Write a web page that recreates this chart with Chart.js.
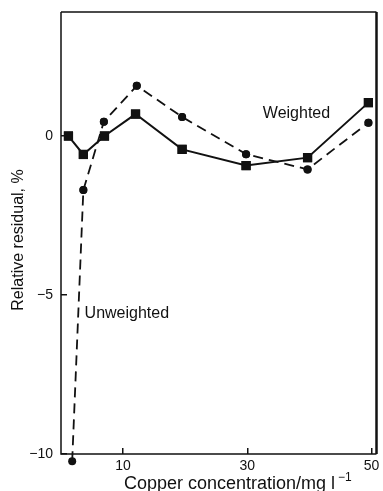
<!DOCTYPE html>
<html>
<head>
<meta charset="utf-8">
<script src="https://cdn.jsdelivr.net/npm/chart.js@4.4.1/dist/chart.umd.min.js"></script>
<style>
  html, body { margin: 0; padding: 0; background: #fff; }
</style>
</head>
<body>
<canvas id="residualChart" width="383" height="491"></canvas>
<script>
  // data
  var weightedConc = [1.2, 3.6, 7, 12, 19.5, 29.8, 39.7, 49.5];
  var weightedResidual = [0, -0.58, 0, 0.69, -0.42, -0.93, -0.68, 1.05];
  var unweightedConc = [1.8, 3.6, 6.9, 12.2, 19.5, 29.8, 39.7, 49.5];
  var unweightedResidual = [-10.23, -1.7, 0.45, 1.58, 0.6, -0.57, -1.05, 0.42];
  var xTickValues = [10, 30, 50];
  var yTickValues = [-10, -5, 0];
  var curveLabels = [
      { text: 'Weighted', x: 32.5, y: 0.72 },
      { text: 'Unweighted', x: 3.8, y: -5.57 }
  ];

  var ink = '#111';
  var fontFamily = '"Liberation Sans", Arial, sans-serif';

  function toPoints(xs, ys) {
      var pts = [];
      for (var i = 0; i < xs.length; i++) {
          pts.push({ x: xs[i], y: ys[i] });
      }
      return pts;
  }

  function noScalePadding(scale) {
      scale.paddingTop = 0;
      scale.paddingBottom = 0;
      scale.paddingLeft = 0;
      scale.paddingRight = 0;
  }

  // box round the plot, curve names and axis titles
  var framePlugin = {
      id: 'frame',
      beforeDatasetsDraw: function(chart) {
          var a = chart.chartArea;
          var ctx = chart.ctx;
          ctx.save();
          ctx.strokeStyle = ink;
          ctx.lineWidth = 1.5;
          ctx.beginPath();
          ctx.moveTo(a.left, a.top);
          ctx.lineTo(a.right, a.top);
          ctx.moveTo(a.left, a.top);
          ctx.lineTo(a.left, a.bottom);
          ctx.lineTo(a.right, a.bottom);
          ctx.stroke();
          ctx.lineWidth = 2.5;
          ctx.beginPath();
          ctx.moveTo(a.right, a.top);
          ctx.lineTo(a.right, a.bottom);
          ctx.stroke();
          ctx.restore();
      },
      afterDatasetsDraw: function(chart) {
          // points just outside the plot box are skipped by chart.js, draw them unclipped
          chart.data.datasets.forEach(function(ds, i) {
              chart.getDatasetMeta(i).data.forEach(function(pt) {
                  pt.draw(chart.ctx);
              });
          });
      },
      afterDraw: function(chart) {
          var ctx = chart.ctx;
          var xs = chart.scales.x;
          var ys = chart.scales.y;
          ctx.save();
          ctx.fillStyle = ink;
          ctx.font = '16px ' + fontFamily;
          ctx.textAlign = 'left';
          ctx.textBaseline = 'middle';
          curveLabels.forEach(function(l) {
              ctx.fillText(l.text, xs.getPixelForValue(l.x), ys.getPixelForValue(l.y));
          });

          // x title with superscript
          ctx.textBaseline = 'alphabetic';
          ctx.font = '18px ' + fontFamily;
          var main = 'Copper concentration/mg l';
          ctx.fillText(main, 124, 489);
          var w = ctx.measureText(main).width;
          ctx.font = '12px ' + fontFamily;
          ctx.fillText('\u22121', 124 + w + 3, 481);

          // y title
          ctx.translate(19, 240);
          ctx.rotate(-Math.PI / 2);
          ctx.font = '16px ' + fontFamily;
          ctx.textAlign = 'center';
          ctx.textBaseline = 'middle';
          ctx.fillText('Relative residual, %', 0, 0);
          ctx.restore();
      }
  };

  var ctx = document.getElementById('residualChart').getContext('2d');
  var residualChart = new Chart(ctx, {
      type: 'line',
      data: {
          datasets: [
              {
                  label: 'Weighted',
                  data: toPoints(weightedConc, weightedResidual),
                  borderColor: ink,
                  backgroundColor: ink,
                  borderWidth: 2,
                  pointStyle: 'rect',
                  pointRadius: 6.5,
                  pointBorderWidth: 0,
                  tension: 0,
                  clip: false
              },
              {
                  label: 'Unweighted',
                  data: toPoints(unweightedConc, unweightedResidual),
                  borderColor: ink,
                  backgroundColor: ink,
                  borderWidth: 1.8,
                  borderDash: [10, 6],
                  pointStyle: 'circle',
                  pointRadius: 4,
                  pointBorderWidth: 0,
                  tension: 0,
                  clip: false
              }
          ]
      },
      options: {
          responsive: false,
          animation: false,
          devicePixelRatio: 1,
          layout: { padding: { top: 12, right: 3, left: 0, bottom: 0 } },
          plugins: {
              legend: { display: false },
              tooltip: { enabled: false }
          },
          scales: {
              x: {
                  type: 'linear',
                  min: 0,
                  max: 50.8,
                  border: { display: false },
                  grid: { drawOnChartArea: false, drawTicks: true, tickLength: -6, color: ink, lineWidth: 1.5 },
                  afterBuildTicks: function(scale) {
                      scale.ticks = xTickValues.map(function(v) { return { value: v }; });
                  },
                  afterFit: function(scale) {
                      scale.height = 37;
                      noScalePadding(scale);
                  },
                  ticks: {
                      color: ink,
                      padding: 10,
                      maxRotation: 0,
                      font: { family: fontFamily, size: 14 }
                  }
              },
              y: {
                  type: 'linear',
                  min: -10,
                  max: 3.9,
                  border: { display: false },
                  grid: { drawOnChartArea: false, drawTicks: true, tickLength: -6, color: ink, lineWidth: 1.5 },
                  afterBuildTicks: function(scale) {
                      scale.ticks = yTickValues.map(function(v) { return { value: v }; });
                  },
                  afterFit: function(scale) {
                      scale.width = 61;
                      noScalePadding(scale);
                  },
                  ticks: {
                      color: ink,
                      padding: 14,
                      font: { family: fontFamily, size: 14 },
                      callback: function(value) {
                          return value < 0 ? '\u2212' + Math.abs(value) : String(value);
                      }
                  }
              }
          }
      },
      plugins: [framePlugin]
  });
</script>
</body>
</html>
